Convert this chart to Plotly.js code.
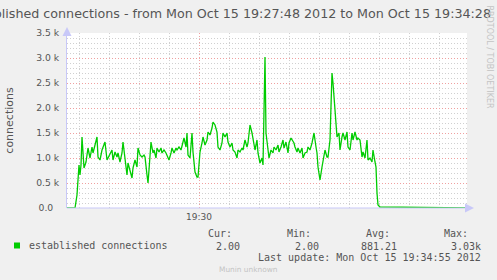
<!DOCTYPE html>
<html>
<head>
<meta charset="utf-8">
<script src="https://cdn.plot.ly/plotly-3.0.1.min.js"></script>
<style>
html,body{margin:0;padding:0;background:#f0f0f0;}
#chart{width:497px;height:280px;}
</style>
</head>
<body>
<div id="chart"></div>
<script>
// seconds after 2012-10-15 19:27:48
var seconds = [0,8,10,11,12,13,14,15,17,19,21,23,25,26,28,30,31,33,35,36,38,40,41,43,45,46,48,50,51,53,55,56,58,60,61,63,65,66,68,70,71,73,75,77,78,80,81,82,84,86,87,89,90,92,94,95,97,99,100,102,104,105,107,109,110,112,114,115,117,119,120,121,123,125,126,128,130,131,133,135,136,138,140,141,143,145,146,148,150,151,153,155,156,158,160,161,163,165,166,168,170,171,173,175,176,178,180,181,183,185,186,188,190,191,193,195,196,198,199,201,202,204,206,207,209,211,212,214,216,217,219,221,222,224,225,227,228,230,231,233,235,236,238,240,241,243,245,246,247,249,250,251,253,255,256,258,260,261,263,264,265,266,268,269,270,272,273,275,276,278,280,281,283,285,286,288,290,291,293,295,296,298,300,301,303,305,306,308,309,310,311,313,400];
var connections = [0,0,260,520,860,660,860,1420,800,920,1200,1000,1220,1100,1260,1420,1020,960,1160,1220,1320,960,1000,1060,1160,960,1120,1020,1100,920,1100,1320,1000,660,900,720,600,800,960,820,1200,1060,1020,1060,1020,660,500,760,1320,1100,1160,1000,1200,1120,1200,1100,1160,1100,1060,960,1100,1200,1100,1200,1160,1220,1160,1260,1400,1220,1500,1060,1000,1500,1120,720,620,620,1120,1300,1420,1260,1360,1520,1460,1600,1720,1660,1520,1220,1160,1300,1500,1420,1500,1320,1220,1300,1160,1120,1000,1160,1120,1200,1160,1360,1220,1300,1660,1500,1360,1160,1360,1100,900,1000,860,3020,1500,1200,1000,1160,1100,1220,1160,1260,1120,1220,1360,1200,1320,1100,1300,1400,1360,1300,1220,1120,1200,1100,1200,1000,1100,1120,1220,1160,1300,1420,1500,1220,1100,820,560,820,960,1160,1020,1020,1360,2220,2700,2500,1960,1560,1420,1500,1160,1420,1500,1360,1520,1220,1160,1500,1360,1520,1360,1400,1360,1020,1120,1000,1360,960,1000,920,1160,920,820,300,60,20,2];
var yTickVals = [0,500,1000,1500,2000,2500,3000,3500];
var yTickText = ['0.0\u00a0\u00a0','0.5 k','1.0 k','1.5 k','2.0 k','2.5 k','3.0 k','3.5 k'];
var xTickText = ['19:30'];
var seriesName = 'established connections';
var titleText = 'established connections - from Mon Oct 15 19:27:48 2012 to Mon Oct 15 19:34:28';
var statLabels = ['Cur:','Min:','Avg:','Max:'];
var statValues = ['2.00','2.00','881.21','3.03k'];
var lastUpdate = 'Last update: Mon Oct 15 19:34:55 2012';

var t0 = Date.UTC(2012,9,15,19,27,48);
var xs = seconds.map(function(s){return t0 + s*1000;});

// pixel helpers (plot area: x 67..467, y 33..208)
var L=67, R=467, T=33, B=208;
function px(x){return (x-L)/(R-L);}
function py(y){return (B-y)/(B-T);}

var mono = 'DejaVu Sans Mono';
var sans = 'DejaVu Sans';
var txt = '#555555';

var ann = [];
ann.push({xref:'paper',yref:'paper',x:px(27),y:py(245.5),xanchor:'left',yanchor:'middle',showarrow:false,
  text:seriesName,font:{family:mono,size:10,color:txt}});
var labelRight=[234,313,392,470], valueRight=[242,321,399,483];
for (var i=0;i<4;i++){
  ann.push({xref:'paper',yref:'paper',x:px(labelRight[i]),y:py(233.5),xanchor:'right',yanchor:'middle',showarrow:false,
    text:statLabels[i],font:{family:mono,size:10,color:txt}});
  ann.push({xref:'paper',yref:'paper',x:px(valueRight[i]),y:py(246),xanchor:'right',yanchor:'middle',showarrow:false,
    text:statValues[i],font:{family:mono,size:10,color:txt}});
}
ann.push({xref:'paper',yref:'paper',x:px(483),y:py(257.5),xanchor:'right',yanchor:'middle',showarrow:false,
  text:lastUpdate,font:{family:mono,size:10,color:txt}});
ann.push({xref:'paper',yref:'paper',x:px(217),y:py(269),xanchor:'left',yanchor:'middle',showarrow:false,
  text:'Munin unknown',font:{family:sans,size:7.4,color:'#c4c4c4'}});
ann.push({xref:'paper',yref:'paper',x:px(489),y:py(56.5),xanchor:'center',yanchor:'middle',showarrow:false,textangle:90,
  text:'RRDTOOL / TOBI OETIKER',font:{family:sans,size:8,color:'#c4c4c4'}});
// axis arrows
ann.push({xref:'paper',yref:'paper',x:px(474),y:0,ax:-6,ay:0,showarrow:true,arrowhead:2,arrowsize:1.2,arrowwidth:1.5,arrowcolor:'#c8c8f8',text:''});
ann.push({xref:'paper',yref:'paper',x:0,y:py(27),ax:0,ay:6,showarrow:true,arrowhead:2,arrowsize:1.2,arrowwidth:1.5,arrowcolor:'#c8c8f8',text:''});

var shapes = [{type:'rect',xref:'paper',yref:'paper',x0:px(14),x1:px(20),y0:py(248.5),y1:py(242.5),
  fillcolor:'#00cc00',line:{width:0}}];

var data = [{x:xs,y:connections,type:'scatter',mode:'lines',name:seriesName,
  line:{color:'#00cc00',width:1.3},showlegend:false,hoverinfo:'skip'}];

var layout = {
  width:497,height:280,
  paper_bgcolor:'#f0f0f0',plot_bgcolor:'#ffffff',
  margin:{l:L,r:497-R,t:T,b:280-B,pad:0},
  title:{text:titleText,font:{family:sans,size:12.7,color:txt},xref:'container',yref:'container',
    x:491/497,xanchor:'right',y:1-13.5/280,yanchor:'middle'},
  xaxis:{type:'date',range:[t0,t0+400000],tickmode:'array',tickvals:[Date.UTC(2012,9,15,19,30,0)],ticktext:xTickText,
    showgrid:true,gridcolor:'#f0a0a0',griddash:'1px,2px',gridwidth:1,
    minor:{tickmode:'linear',tick0:Date.UTC(2012,9,15,19,28,0),dtick:30000,showgrid:true,gridcolor:'#d0d0d0',griddash:'1px,2px',gridwidth:1,ticks:''},
    showline:false,zeroline:false,ticks:'',tickfont:{family:sans,size:9,color:txt},ticklabelstandoff:2,fixedrange:true},
  yaxis:{range:[0,3500],tickmode:'array',tickvals:yTickVals,ticktext:yTickText,
    showgrid:true,gridcolor:'#f0a0a0',griddash:'1px,2px',gridwidth:1,
    minor:{tickmode:'linear',tick0:0,dtick:100,showgrid:true,gridcolor:'#d0d0d0',griddash:'1px,2px',gridwidth:1,ticks:''},
    showline:true,linecolor:'#c8c8f8',linewidth:1,zeroline:false,ticks:'',
    tickfont:{family:sans,size:9.25,color:txt},ticklabelstandoff:5,
    title:{text:'connections',font:{family:sans,size:11,color:txt},standoff:20},fixedrange:true},
  shapes:shapes.concat([{type:'line',xref:'paper',yref:'paper',x0:0,x1:px(470),y0:0,y1:0,line:{color:'#c8c8f8',width:1}}]),
  annotations:ann
};
Plotly.newPlot('chart',data,layout,{displayModeBar:false,staticPlot:true});
</script>
</body>
</html>
